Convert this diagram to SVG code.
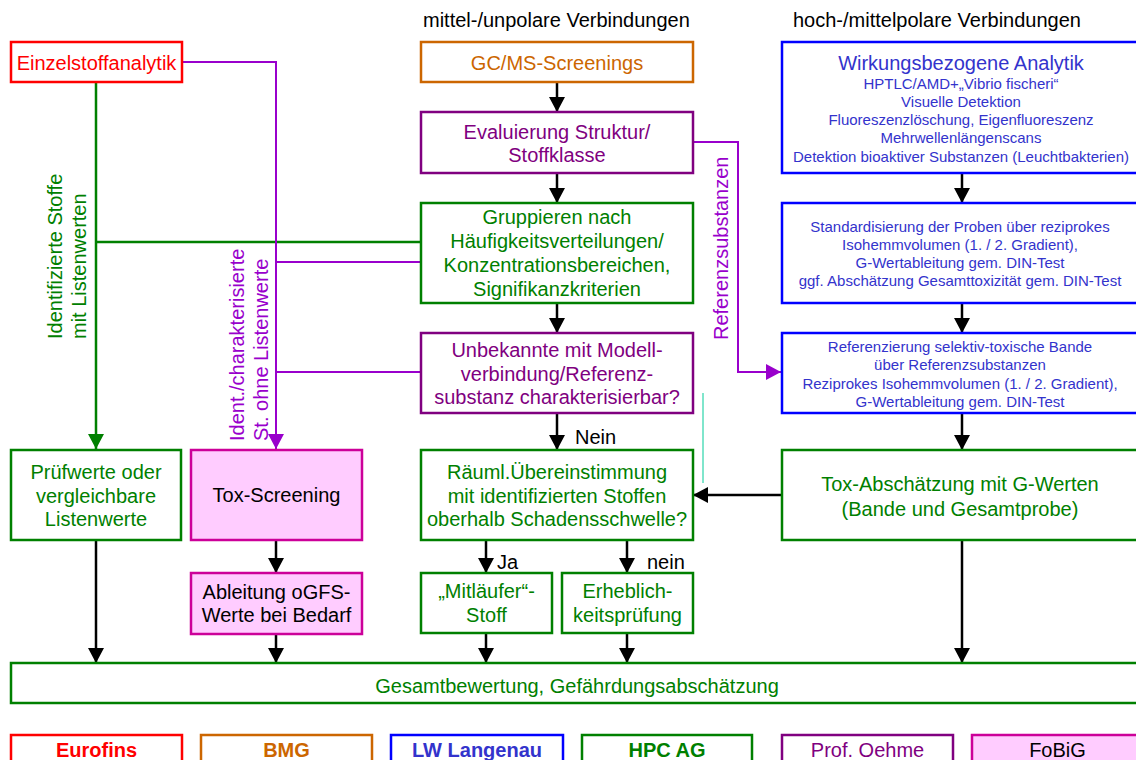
<svg xmlns="http://www.w3.org/2000/svg" width="1136" height="760" viewBox="0 0 1136 760">
<style>
text{font-family:"Liberation Sans",Arial,sans-serif;font-size:20px}
.c{text-anchor:middle}
.s{font-size:15px}
.b{font-weight:bold}
.box{fill:#fff;stroke-width:2.5}
.red{stroke:#FF0000}.tred{fill:#FF0000}
.org{stroke:#CC6600}.torg{fill:#CC6600}
.blu{stroke:#0000FF}.tblu{fill:#3333CC}
.grn{stroke:#008000}.tgrn{fill:#008000}
.pur{stroke:#800080}.tpur{fill:#800080}
.mag{stroke:#CC0099;fill:#FFCCFF}
.tvio{fill:#9900CC}
.k{fill:none;stroke:#000;stroke-width:2.5;marker-end:url(#ak)}
.gl{fill:none;stroke:#008000;stroke-width:2.5}
.vl{fill:none;stroke:#9900CC;stroke-width:2}
</style>
<defs>
<marker id="ak" markerUnits="userSpaceOnUse" markerWidth="15" markerHeight="16" refX="15" refY="8" orient="auto"><path d="M0,0 L15,8 L0,16 Z" fill="#000"/></marker>
<marker id="ag" markerUnits="userSpaceOnUse" markerWidth="15" markerHeight="16" refX="15" refY="8" orient="auto"><path d="M0,0 L15,8 L0,16 Z" fill="#008000"/></marker>
<marker id="av" markerUnits="userSpaceOnUse" markerWidth="15" markerHeight="16" refX="15" refY="8" orient="auto"><path d="M0,0 L15,8 L0,16 Z" fill="#9900CC"/></marker>
</defs>

<text x="423" y="27">mittel-/unpolare Verbindungen</text>
<text x="793" y="27">hoch-/mittelpolare Verbindungen</text>

<g id="connectors">
<path class="gl" d="M96,83 V449" marker-end="url(#ag)"/>
<path class="gl" d="M96,242 H421"/>
<path class="vl" d="M182,62 H276 V449" marker-end="url(#av)"/>
<path class="vl" d="M276,262 H421"/>
<path class="vl" d="M276,372 H421"/>
<path class="vl" d="M693,142 H738 V372 H781" marker-end="url(#av)"/>
<path class="k" d="M557,83 V112"/>
<path class="k" d="M557,173 V203"/>
<path class="k" d="M557,303 V333"/>
<path class="k" d="M557,413 V450"/>
<path class="k" d="M962,173 V203"/>
<path class="k" d="M962,303 V333"/>
<path class="k" d="M962,413 V450"/>
<path class="k" d="M782,495 H693"/>
<path class="k" d="M276,540 V573"/>
<path class="k" d="M276,634 V663"/>
<path class="k" d="M486,540 V573"/>
<path class="k" d="M486,633 V663"/>
<path class="k" d="M627,540 V573"/>
<path class="k" d="M627,633 V663"/>
<path class="k" d="M96,540 V663"/>
<path class="k" d="M962,540 V663"/>
<path d="M703,393 V483" stroke="#00CC99" stroke-width="1" fill="none"/>
<text x="575" y="444" font-size="19">Nein</text>
<text x="497" y="569" font-size="19">Ja</text>
<text x="647" y="569" font-size="19">nein</text>
<text class="tgrn" transform="translate(62,339) rotate(-90)"><tspan x="0" y="0">Identifizierte Stoffe</tspan><tspan x="0" dy="24">mit Listenwerten</tspan></text>
<text class="tvio" transform="translate(244,441) rotate(-90)"><tspan x="0" y="0">Ident./charakterisierte</tspan><tspan x="0" dy="24">St. ohne Listenwerte</tspan></text>
<text class="tvio" transform="translate(728,340) rotate(-90)">Referenzsubstanzen</text>
</g>

<g id="einzel"><rect class="box red" x="11" y="42" width="171" height="40"/><text class="c tred" x="96.5" y="69.5">Einzelstoffanalytik</text></g>
<g id="gcms"><rect class="box org" x="421" y="42" width="272" height="40"/><text class="c torg" x="557" y="69.5">GC/MS-Screenings</text></g>
<g id="eval"><rect class="box pur" x="421" y="112" width="272" height="61"/><text class="c tpur" x="557" y="139">Evaluierung Struktur/<tspan x="557" dy="23">Stoffklasse</tspan></text></g>
<g id="grupp"><rect class="box grn" x="421" y="203" width="272" height="100"/><text class="c tgrn" x="557" y="224">Gruppieren nach<tspan x="557" dy="24">Häufigkeitsverteilungen/</tspan><tspan x="557" dy="24">Konzentrationsbereichen,</tspan><tspan x="557" dy="24">Signifikanzkriterien</tspan></text></g>
<g id="unbek"><rect class="box pur" x="421" y="333" width="272" height="80"/><text class="c tpur" x="557" y="357">Unbekannte mit Modell-<tspan x="557" dy="23.5">verbindung/Referenz-</tspan><tspan x="557" dy="23.5">substanz charakterisierbar?</tspan></text></g>
<g id="raeuml"><rect class="box grn" x="421" y="450" width="272" height="90"/><text class="c tgrn" x="557" y="479">Räuml.Übereinstimmung<tspan x="557" dy="23.5">mit identifizierten Stoffen</tspan><tspan x="557" dy="23.5">oberhalb Schadensschwelle?</tspan></text></g>
<g id="mitlaeufer"><rect class="box grn" x="421" y="573" width="131" height="60"/><text class="c tgrn" x="486.5" y="598">„Mitläufer“-<tspan x="486.5" dy="23.5">Stoff</tspan></text></g>
<g id="erheblich"><rect class="box grn" x="562" y="573" width="131" height="60"/><text class="c tgrn" x="627.5" y="598">Erheblich-<tspan x="627.5" dy="23.5">keitsprüfung</tspan></text></g>
<g id="pruef"><rect class="box grn" x="11" y="450" width="170" height="90"/><text class="c tgrn" x="96" y="479">Prüfwerte oder<tspan x="96" dy="23.5">vergleichbare</tspan><tspan x="96" dy="23.5">Listenwerte</tspan></text></g>
<g id="toxscr"><rect class="box mag" x="191" y="450" width="171" height="90" stroke-width="2.5"/><text class="c" x="276.5" y="502">Tox-Screening</text></g>
<g id="ableitung"><rect class="box mag" x="191" y="573" width="171" height="61" stroke-width="2.5"/><text class="c" x="276.5" y="599">Ableitung oGFS-<tspan x="276.5" dy="23">Werte bei Bedarf</tspan></text></g>
<g id="wirk"><rect class="box blu" x="782" y="42" width="358" height="131"/><text class="c tblu" x="961" y="70">Wirkungsbezogene Analytik</text><text class="c tblu s" x="961" y="88.5">HPTLC/AMD+„Vibrio fischeri“<tspan x="961" dy="18.3">Visuelle Detektion</tspan><tspan x="961" dy="18.3">Fluoreszenzlöschung, Eigenfluoreszenz</tspan><tspan x="961" dy="18.3">Mehrwellenlängenscans</tspan><tspan x="961" dy="18.3">Detektion bioaktiver Substanzen (Leuchtbakterien)</tspan></text></g>
<g id="stand"><rect class="box blu" x="782" y="203" width="358" height="100"/><text class="c tblu s" x="960" y="232">Standardisierung der Proben über reziprokes<tspan x="960" dy="18">Isohemmvolumen (1. / 2. Gradient),</tspan><tspan x="960" dy="18">G-Wertableitung gem. DIN-Test</tspan><tspan x="960" dy="18">ggf. Abschätzung Gesamttoxizität gem. DIN-Test</tspan></text></g>
<g id="referenz"><rect class="box blu" x="782" y="333" width="358" height="80"/><text class="c tblu s" x="960" y="352">Referenzierung selektiv-toxische Bande<tspan x="960" dy="18.3">über Referenzsubstanzen</tspan><tspan x="960" dy="18.3">Reziprokes Isohemmvolumen (1. / 2. Gradient),</tspan><tspan x="960" dy="18.3">G-Wertableitung gem. DIN-Test</tspan></text></g>
<g id="toxabs"><rect class="box grn" x="782" y="450" width="358" height="90"/><text class="c tgrn" x="960" y="491">Tox-Abschätzung mit G-Werten<tspan x="960" dy="24.5">(Bande und Gesamtprobe)</tspan></text></g>
<g id="gesamt"><rect class="box grn" x="11" y="663" width="1132" height="40"/><text class="c tgrn" x="577" y="693">Gesamtbewertung, Gefährdungsabschätzung</text></g>

<g id="legend-eurofins"><rect class="box red" x="11" y="735" width="171" height="40"/><text class="c b tred" x="96.5" y="757">Eurofins</text></g>
<g id="legend-bmg"><rect class="box org" x="201" y="735" width="171" height="40"/><text class="c b torg" x="286.5" y="757">BMG</text></g>
<g id="legend-lw"><rect class="box blu" x="391" y="735" width="172" height="40"/><text class="c b tblu" x="477" y="757">LW Langenau</text></g>
<g id="legend-hpc"><rect class="box grn" x="582" y="735" width="170" height="40"/><text class="c b tgrn" x="667" y="757">HPC AG</text></g>
<g id="legend-oehme"><rect class="box pur" x="782" y="735" width="171" height="40"/><text class="c tpur" x="867.5" y="757">Prof. Oehme</text></g>
<g id="legend-fobig"><rect class="box mag" x="972" y="735" width="171" height="40" stroke-width="2.5"/><text class="c" x="1057.5" y="757">FoBiG</text></g>
</svg>
